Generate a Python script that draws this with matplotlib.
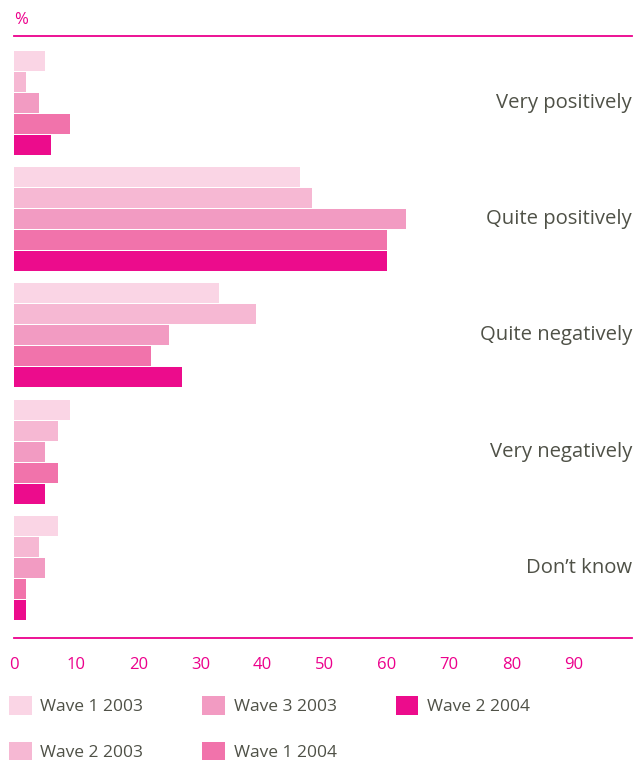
import matplotlib
matplotlib.use('Agg')
import matplotlib.pyplot as plt
from matplotlib.patches import Patch
import numpy as np

# data (percent)
categories = ["Very positively", "Quite positively", "Quite negatively",
              "Very negatively", "Don\u2019t know"]
series_names = ["Wave 1 2003", "Wave 2 2003", "Wave 3 2003",
                "Wave 1 2004", "Wave 2 2004"]
wave1_2003 = [5, 46, 33, 9, 7]
wave2_2003 = [2, 48, 39, 7, 4]
wave3_2003 = [4, 63, 25, 5, 5]
wave1_2004 = [9, 60, 22, 7, 2]
wave2_2004 = [6, 60, 27, 5, 2]
x_ticks = [0, 10, 20, 30, 40, 50, 60, 70, 80, 90]

series = [wave1_2003, wave2_2003, wave3_2003, wave1_2004, wave2_2004]
colors = ["#FAD5E5", "#F6B8D3", "#F29BC2", "#F173AB", "#EC0C8C"]
magenta = "#EC008C"
text_grey = "#4F5147"

plt.rcParams['font.family'] = ['Open Sans', 'DejaVu Sans']

W, H = 633, 760
fig = plt.figure(figsize=(W / 100, H / 100), dpi=100)
ax = fig.add_axes([14 / W, 1 - 638 / H, 618 / W, 602 / H])

pitch = 21 / 116.25
bar_h = 20 / 116.25
y = np.arange(len(categories))
for j, (vals, c) in enumerate(zip(series, colors)):
    ax.barh(y + (j - 2) * pitch, vals, height=bar_h, color=c,
            edgecolor='none', label=series_names[j])

ax.set_xlim(0, 99.4)
ax.set_ylim(4.602, -0.576)

for s in ['left', 'right']:
    ax.spines[s].set_visible(False)
for s in ['top', 'bottom']:
    ax.spines[s].set_color(magenta)
    ax.spines[s].set_linewidth(1.3)

ax.set_xticks(x_ticks)
ax.set_xticklabels([str(t) for t in x_ticks])
ax.tick_params(axis='x', length=0, pad=14, labelsize=12, labelcolor=magenta)
ax.set_yticks([])

# category labels on the right
for i, cat in enumerate(categories):
    ax.text(1.0, i, cat, transform=ax.get_yaxis_transform(), ha='right',
            va='center', fontsize=14.6, color=text_grey)

fig.text(14 / W, 1 - 20 / H, "%", color=magenta, fontsize=12,
         ha='left', va='center')

handles = [Patch(facecolor=c, edgecolor='none', label=n)
           for c, n in zip(colors, series_names)]
leg = fig.legend(handles=handles, ncol=3, loc='upper left',
                 bbox_to_anchor=(9 / W, 1 - 696 / H), frameon=False,
                 fontsize=12.5, handlelength=1.3, handleheight=1.3,
                 handletextpad=0.5, columnspacing=3.4, labelspacing=1.55,
                 borderpad=0, borderaxespad=0)
for t in leg.get_texts():
    t.set_color(text_grey)

fig.savefig("out.png", dpi=100)
